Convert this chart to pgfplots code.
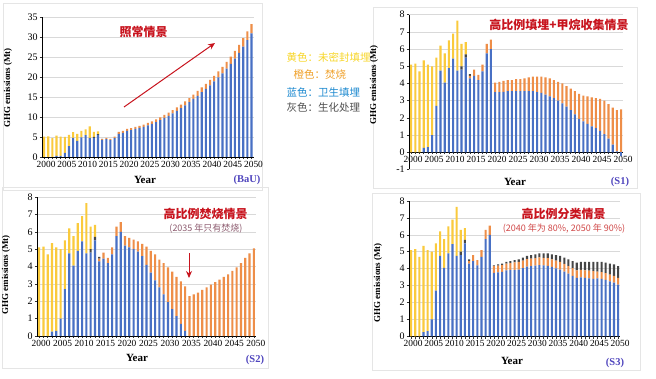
\documentclass[border=0pt]{standalone}
\usepackage{pgfplots}
\pgfplotsset{compat=1.18}
\usepackage{pgfplotstable}
\usetikzlibrary{arrows.meta}
\usepackage{fontspec}
\setmainfont{Liberation Serif}
\newfontfamily\cjk{Noto Sans CJK SC}

\definecolor{cblue}{RGB}{72,112,196}
\definecolor{corange}{RGB}{238,142,72}
\definecolor{cyellow}{RGB}{250,202,60}
\definecolor{cgray}{RGB}{70,70,70}
\definecolor{cred}{RGB}{200,20,30}
\definecolor{ctag}{RGB}{80,70,190}
\definecolor{lyellow}{RGB}{248,214,40}
\definecolor{lorange}{RGB}{240,160,40}
\definecolor{lblue}{RGB}{30,138,208}
\definecolor{lgray}{RGB}{80,80,80}

% year blue orange gray yellow
\pgfplotstableread{
year blue orange gray yellow
2000 0 0 0 5.1
2001 0 0 0 5.15
2002 0 0 0 4.7
2003 0.25 0 0 5.1
2004 0.3 0 0 4.8
2005 1.0 0 0 4.0
2006 2.7 0 0 2.8
2007 4.75 0 0 1.45
2008 4.05 0 0 1.7
2009 4.9 0 0 1.6
2010 5.45 0 0 1.45
2011 4.75 0 0 2.9
2012 4.8 0 0.2 1.3
2013 5.5 0 0.2 0.7
2014 4.3 0.15 0.1 0
2015 4.45 0.35 0 0
2016 4.2 0.3 0 0
2017 4.7 0.4 0 0
2018 5.75 0.55 0 0
2019 6.0 0.55 0 0
2020 6.5 0.5 0 0
2021 6.7 0.5 0 0
2022 7.0 0.5 0 0
2023 7.3 0.5 0 0
2024 7.5 0.6 0 0
2025 7.9 0.6 0 0
2026 8.3 0.6 0 0
2027 8.7 0.7 0 0
2028 9.2 0.7 0 0
2029 9.8 0.7 0 0
2030 10.3 0.8 0 0
2031 10.9 0.8 0 0
2032 11.5 0.9 0 0
2033 12.2 0.9 0 0
2034 12.9 1.0 0 0
2035 13.7 1.0 0 0
2036 14.5 1.1 0 0
2037 15.3 1.2 0 0
2038 16.2 1.2 0 0
2039 17.0 1.3 0 0
2040 17.9 1.4 0 0
2041 18.9 1.4 0 0
2042 19.9 1.5 0 0
2043 20.9 1.6 0 0
2044 22.1 1.7 0 0
2045 23.3 1.8 0 0
2046 24.6 1.9 0 0
2047 26.0 2.0 0 0
2048 27.6 2.1 0 0
2049 29.2 2.2 0 0
2050 30.9 2.3 0 0
}\bau

\pgfplotstableread{
year blue orange gray yellow
2000 0 0 0 5.1
2001 0 0 0 5.15
2002 0 0 0 4.7
2003 0.25 0 0 5.1
2004 0.3 0 0 4.8
2005 1.0 0 0 4.0
2006 2.7 0 0 2.8
2007 4.75 0 0 1.45
2008 4.05 0 0 1.7
2009 4.9 0 0 1.6
2010 5.45 0 0 1.45
2011 4.75 0 0 2.9
2012 4.8 0 0.2 1.3
2013 5.5 0 0.2 0.7
2014 4.3 0.15 0.1 0
2015 4.45 0.35 0 0
2016 4.2 0.3 0 0
2017 4.7 0.4 0 0
2018 5.75 0.55 0 0
2019 6.0 0.55 0 0
2020 3.5 0.55 0 0
2021 3.5 0.6 0 0
2022 3.52 0.63 0 0
2023 3.55 0.65 0 0
2024 3.55 0.65 0 0
2025 3.55 0.7 0 0
2026 3.55 0.7 0 0
2027 3.55 0.75 0 0
2028 3.55 0.8 0 0
2029 3.55 0.85 0 0
2030 3.5 0.9 0 0
2031 3.45 0.95 0 0
2032 3.35 1.0 0 0
2033 3.25 1.05 0 0
2034 3.15 1.05 0 0
2035 3.0 1.1 0 0
2036 2.85 1.15 0 0
2037 2.65 1.2 0 0
2038 2.45 1.25 0 0
2039 2.2 1.35 0 0
2040 1.95 1.45 0 0
2041 1.8 1.5 0 0
2042 1.65 1.6 0 0
2043 1.5 1.7 0 0
2044 1.4 1.75 0 0
2045 1.25 1.85 0 0
2046 1.05 1.95 0 0
2047 0.8 2.0 0 0
2048 0.45 2.15 0 0
2049 0.05 2.4 0 0
2050 0 2.5 0 0
}\sone

\pgfplotstableread{
year blue orange gray yellow
2000 0 0 0 5.1
2001 0 0 0 5.15
2002 0 0 0 4.7
2003 0.25 0 0 5.1
2004 0.3 0 0 4.8
2005 1.0 0 0 4.0
2006 2.7 0 0 2.8
2007 4.75 0 0 1.45
2008 4.05 0 0 1.7
2009 4.9 0 0 1.6
2010 5.45 0 0 1.45
2011 4.75 0 0 2.9
2012 4.8 0 0.2 1.3
2013 5.5 0 0.2 0.7
2014 4.3 0.15 0.1 0
2015 4.45 0.35 0 0
2016 4.2 0.3 0 0
2017 4.7 0.4 0 0
2018 5.75 0.55 0 0
2019 6.0 0.55 0 0
2020 5.2 0.55 0 0
2021 5.1 0.55 0 0
2022 5.0 0.55 0 0
2023 4.85 0.6 0 0
2024 4.6 0.7 0 0
2025 4.1 1.05 0 0
2026 3.65 1.25 0 0
2027 3.2 1.5 0 0
2028 2.8 1.6 0 0
2029 2.4 1.8 0 0
2030 1.95 2.0 0 0
2031 1.55 2.15 0 0
2032 1.15 2.25 0 0
2033 0.7 2.45 0 0
2034 0.3 2.55 0 0
2035 0 2.3 0 0
2036 0 2.4 0 0
2037 0 2.5 0 0
2038 0 2.65 0 0
2039 0 2.8 0 0
2040 0 2.95 0 0
2041 0 3.1 0 0
2042 0 3.25 0 0
2043 0 3.4 0 0
2044 0 3.55 0 0
2045 0 3.75 0 0
2046 0 3.95 0 0
2047 0 4.2 0 0
2048 0 4.5 0 0
2049 0 4.75 0 0
2050 0 5.05 0 0
}\stwo

\pgfplotstableread{
year blue orange gray yellow
2000 0 0 0 5.1
2001 0 0 0 5.15
2002 0 0 0 4.7
2003 0.25 0 0 5.1
2004 0.3 0 0 4.8
2005 1.0 0 0 4.0
2006 2.7 0 0 2.8
2007 4.75 0 0 1.45
2008 4.05 0 0 1.7
2009 4.9 0 0 1.6
2010 5.45 0 0 1.45
2011 4.75 0 0 2.9
2012 4.8 0 0.2 1.3
2013 5.5 0 0.2 0.7
2014 4.3 0.15 0.1 0
2015 4.45 0.35 0 0
2016 4.2 0.3 0 0
2017 4.7 0.4 0 0
2018 5.75 0.55 0 0
2019 6.0 0.55 0 0
2020 3.75 0.4 0.05 0
2021 3.78 0.4 0.07 0
2022 3.81 0.4 0.09 0
2023 3.90 0.4 0.10 0
2024 3.93 0.4 0.12 0
2025 3.92 0.45 0.13 0
2026 3.95 0.45 0.15 0
2027 4.03 0.45 0.17 0
2028 4.12 0.45 0.18 0
2029 4.15 0.45 0.20 0
2030 4.18 0.45 0.22 0
2031 4.21 0.45 0.24 0
2032 4.19 0.45 0.26 0
2033 4.17 0.45 0.28 0
2034 4.10 0.45 0.30 0
2035 4.02 0.45 0.33 0
2036 3.95 0.45 0.35 0
2037 3.83 0.45 0.37 0
2038 3.70 0.45 0.40 0
2039 3.58 0.45 0.42 0
2040 3.45 0.45 0.45 0
2041 3.48 0.45 0.47 0
2042 3.45 0.45 0.50 0
2043 3.43 0.45 0.52 0
2044 3.40 0.45 0.55 0
2045 3.43 0.40 0.57 0
2046 3.40 0.40 0.60 0
2047 3.33 0.40 0.62 0
2048 3.25 0.40 0.65 0
2049 3.18 0.40 0.67 0
2050 3.05 0.40 0.70 0
}\sthree

\pgfplotsset{
  panel/.style={
    scale only axis, anchor=south west,
    xmin=1999.5, xmax=2050.5,
    ybar stacked, bar width=0.5,
    axis x line=middle, axis y line=left,
    hide obscured x ticks=false, hide obscured y ticks=false,
    axis line style={-, black!75},
    every inner x axis line/.style={-},
    every outer x axis line/.style={-},
    every outer y axis line/.style={-},
    xtick={2000,2005,...,2050},
    minor x tick num=4,
    tick align=outside,
    major tick length=2.2pt, minor tick length=2.2pt,
    tick style={black!80, line width=0.5pt},
    ymajorgrids, grid style={black!15, line width=0.5pt},
    /pgf/number format/1000 sep={},
    /pgf/number format/assume math mode=true,
    yticklabel style={font=\fontsize{10}{12}\selectfont, inner sep=2pt},
    xticklabel style={font=\fontsize{9.4}{11}\selectfont, inner sep=1.5pt, xshift=2pt},
    clip=false,
  },
}

\newcommand{\stackbars}[1]{%
  \addplot[fill=cblue,draw=none] table[x=year,y=blue]{#1};
  \addplot[fill=corange,draw=none] table[x=year,y=orange]{#1};
  \addplot[fill=cgray,draw=none] table[x=year,y=gray]{#1};
  \addplot[fill=cyellow,draw=none] table[x=year,y=yellow]{#1};
}

\begin{document}
\begin{tikzpicture}
\useasboundingbox (0pt,0pt) rectangle (656pt,378pt);
\fill[white] (0pt,0pt) rectangle (656pt,378pt);
% panel frames
\draw[black!10, line width=0.6pt] (3pt,375pt) rectangle (262pt,188pt);
\draw[black!10, line width=0.6pt] (373pt,371pt) rectangle (637pt,190pt);
\draw[black!10, line width=0.6pt] (2pt,191pt) rectangle (268pt,10pt);
\draw[black!10, line width=0.6pt] (372pt,185pt) rectangle (640pt,8pt);

% Panel 1: BaU
\begin{axis}[panel, at={(42pt,221pt)}, width=211.6pt, height=140pt,
  ymin=0, ymax=35, ytick={0,5,...,35}]
\stackbars{\bau}
\end{axis}

% Panel 2: S1
\begin{axis}[panel, at={(409pt,208.5pt)}, width=214.2pt, height=154.8pt,
  ymin=-1, ymax=8, ytick={-1,0,...,8}]
\stackbars{\sone}
\end{axis}
\begin{axis}[scale only axis, anchor=south west, at={(409pt,208.5pt)}, width=214.2pt, height=154.8pt,
  xmin=1999.5, xmax=2050.5, ymin=-1, ymax=8, hide axis, ybar, bar width=0.5]
\addplot[fill=cblue,draw=none] coordinates {(2050,-0.2)};
\end{axis}

% Panel 3: S2
\begin{axis}[panel, at={(37pt,42pt)}, width=219pt, height=139pt,
  ymin=0, ymax=8, ytick={0,1,...,8}]
\stackbars{\stwo}
\end{axis}

% Panel 4: S3
\begin{axis}[panel, at={(409pt,41.7pt)}, width=211.2pt, height=135.3pt,
  ymin=0, ymax=8, ytick={0,1,...,8}]
\stackbars{\sthree}
\end{axis}

% axis titles
\foreach \px/\py in {145/198, 515/196, 137/20, 512/17}{
  \node[font=\bfseries\fontsize{11}{13}\selectfont] at (\px pt,\py pt) {Year};
}
\foreach \px/\py in {8/290, 374/293, 6/103, 378/95}{
  \node[font=\bfseries\fontsize{9}{11}\selectfont, rotate=90] at (\px pt,\py pt) {GHG emissions (Mt)};
}
\node[font=\bfseries\fontsize{10.5}{12}\selectfont, text=ctag] at (247pt,198pt) {(BaU)};
\node[font=\bfseries\fontsize{10.5}{12}\selectfont, text=ctag] at (620pt,196pt) {(S1)};
\node[font=\bfseries\fontsize{10.5}{12}\selectfont, text=ctag] at (255pt,18pt) {(S2)};
\node[font=\bfseries\fontsize{10.5}{12}\selectfont, text=ctag] at (615pt,15pt) {(S3)};

% chart titles
\node[font=\cjk\bfseries\fontsize{12}{14}\selectfont, text=cred] at (143.5pt,346pt) {照常情景};
\node[font=\cjk\bfseries\fontsize{12}{14}\selectfont, text=cred] at (559pt,353pt) {高比例填埋+甲烷收集情景};
\node[font=\cjk\bfseries\fontsize{12}{14}\selectfont, text=cred] at (205.5pt,164pt) {高比例焚烧情景};
\node[font=\cjk\fontsize{9}{11}\selectfont, text={rgb,255:red,140;green,90;blue,110}] at (206pt,149pt) {(2035 年只有焚烧)};
\node[font=\cjk\bfseries\fontsize{12}{14}\selectfont, text=cred] at (563.5pt,164pt) {高比例分类情景};
\node[font=\cjk\fontsize{9}{11}\selectfont, text={rgb,255:red,208;green,70;blue,70}] at (564pt,149pt) {(2040 年为 80\%, 2050 年 90\%)};

% arrows
\draw[cred, line width=1pt, -{Stealth[length=7pt,width=6pt]}] (124pt,271pt) -- (215pt,335pt);
\draw[cred, line width=1pt, -{Stealth[length=7pt,width=6pt]}] (189pt,125pt) -- (189pt,100pt);

% colour legend
\node[anchor=west, font=\cjk\fontsize{10.5}{12}\selectfont, text=lyellow] at (283pt,321pt) {黄色：未密封填埋};
\node[anchor=west, font=\cjk\fontsize{10.5}{12}\selectfont, text=lorange] at (290pt,303pt) {橙色：焚烧};
\node[anchor=west, font=\cjk\fontsize{10.5}{12}\selectfont, text=lblue] at (283pt,286pt) {蓝色：卫生填埋};
\node[anchor=west, font=\cjk\fontsize{10.5}{12}\selectfont, text=lgray] at (283pt,270pt) {灰色：生化处理};
\end{tikzpicture}
\end{document}
